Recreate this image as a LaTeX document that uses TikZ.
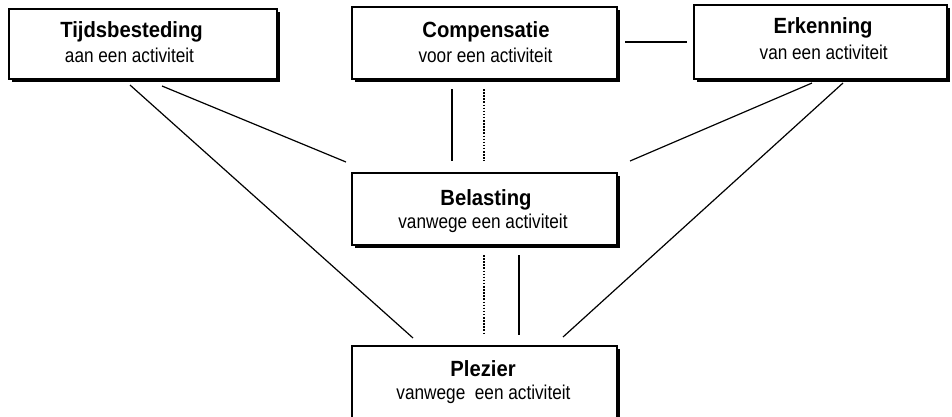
\documentclass[tikz,border=0pt]{standalone}
\usepackage{fontspec}
\setmainfont{Liberation Sans}
\newfontfamily\ttlfont[FakeStretch=0.92]{Liberation Sans}
\newfontfamily\subfont[FakeStretch=0.86]{Liberation Sans}
\usetikzlibrary{calc}
\newcommand\myboxshade[1]{%
  \draw[shade] ($(#1.south west)+(3,1.3)$) -- ($(#1.south east)+(1.3,1.3)$) -- ($(#1.north east)+(1.3,3)$);}
\begin{document}
\begin{tikzpicture}[x=1pt,y=-1pt,
  box/.style={draw, line width=1.1pt, fill=white, inner sep=0pt, outer sep=0pt},
  shade/.style={line width=2.8pt, line cap=butt, line join=miter},
  ttl/.style={anchor=base, inner sep=0pt, font=\ttlfont\bfseries\fontsize{22}{26}\selectfont},
  sub/.style={anchor=base, inner sep=0pt, font=\subfont\fontsize{20}{24}\selectfont},
  link/.style={line width=1.2pt},
  dotlink/.style={line width=1.6pt, dash pattern=on 1.5pt off 1.6pt}]
\useasboundingbox (0,0) rectangle (952,416);
\clip (0,0) rectangle (952,416);
\fill[white] (0,0) rectangle (952,416);

\node[box, minimum width=268pt, minimum height=70pt] (tijd) at (143,44) {};
\node[box, minimum width=265pt, minimum height=72pt] (comp) at (484.5,43) {};
\node[box, minimum width=253pt, minimum height=74pt] (erk) at (820.5,42) {};
\node[box, minimum width=265pt, minimum height=72pt] (bel) at (484.5,209) {};
\node[box, minimum width=265pt, minimum height=90pt] (plez) at (484.5,391) {};
\myboxshade{tijd}
\myboxshade{comp}
\myboxshade{erk}
\myboxshade{bel}
\myboxshade{plez}

\node[ttl] (tijdT) at (131.5,37) {Tijdsbesteding};
\node[sub] (tijdS) at (129.5,62) {aan een activiteit};
\node[ttl] (compT) at (486,37) {Compensatie};
\node[sub] (compS) at (485.5,62) {voor een activiteit};
\node[ttl] (erkT) at (823,33.5) {Erkenning};
\node[sub] (erkS) at (823.7,59) {van een activiteit};
\node[ttl] (belT) at (486,205) {Belasting};
\node[sub] (belS) at (483,228) {vanwege een activiteit};
\node[ttl] (plezT) at (483,376) {Plezier};
\node[sub] (plezS) at (483.5,399) {vanwege\ \ een activiteit};

\draw[link] ($(tijd.south west)+(121,6)$) -- ($(plez.north west)+(61,-8)$);
\draw[link] ($(tijd.south west)+(153,7)$) -- ($(bel.north west)+(-6,-11)$);
\draw[link] ($(comp.south west)+(100,10)$) -- ($(bel.north west)+(100,-12)$);
\draw[dotlink] ($(comp.south west)+(132,10)$) -- ($(bel.north west)+(132,-12)$);
\draw[dotlink] ($(bel.south west)+(132,10)$) -- ($(plez.north west)+(132,-11)$);
\draw[link] ($(bel.south west)+(167,10)$) -- ($(plez.north west)+(167,-11)$);
\draw[link] ($(comp.east)+(8,-1)$) -- ($(erk.west)+(-7,0)$);
\draw[link] ($(erk.south west)+(118,4)$) -- ($(bel.north east)+(13,-12)$);
\draw[link] ($(erk.south west)+(149,4)$) -- ($(plez.north east)+(-54,-9)$);
\end{tikzpicture}
\end{document}
